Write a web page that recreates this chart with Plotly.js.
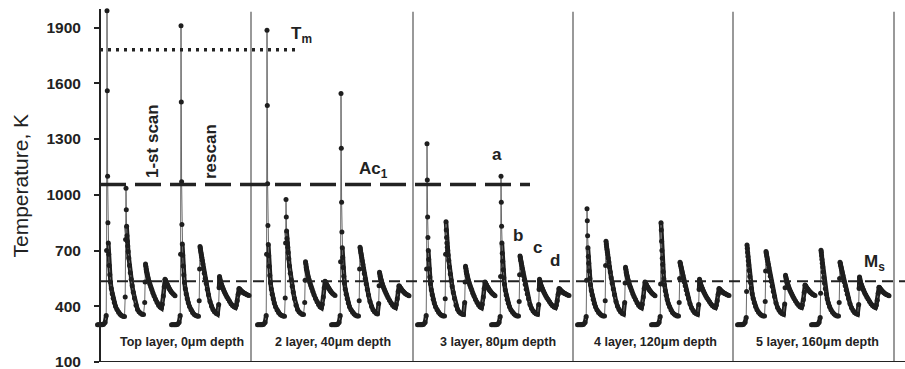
<!DOCTYPE html>
<html>
<head>
<meta charset="utf-8">
<script src="https://cdn.plot.ly/plotly-3.0.1.min.js"></script>
<style>html,body{margin:0;padding:0;background:#fff;}#chart{width:905px;height:369px;}</style>
</head>
<body>
<div id="chart"></div>
<script>
// ---- DATA ----
// Sample times within one scan (shared by every scan), arbitrary time units
const TIME = [
  0, 1.5, 3, 4.5, 6, 7.5,
  8.7, 9.1, 9.5, 9.8, 10.1, 10.4, 10.8, 11.2, 11.7, 12.3, 13.0, 13.8, 14.7, 15.7, 16.8, 18.0, 19.5, 21.0, 22.5, 24.0, 25.5, 27.0,
  27.7, 28.1, 28.5, 28.8, 29.1, 29.4, 29.8, 30.2, 30.7, 31.3, 32.0, 32.8, 33.7, 34.7, 35.8, 37.0, 38.5, 40.0, 41.5, 43.0, 44.5, 46.0,
  47.2, 47.6, 48.0, 48.3, 48.6, 48.9, 49.3, 49.7, 50.2, 50.8, 51.5, 52.3, 53.2, 54.2, 55.3, 56.5, 58.0, 59.5, 61.0, 62.5, 64.0,
  64.8, 65.8, 66.7, 67.5, 67.8, 68.1, 68.4, 68.8, 69.2, 69.7, 70.3, 71.0, 71.8, 72.7, 73.7, 74.8, 76.0, 77.5
];
// Start time of each layer's first scan, and delay of the rescan
const LAYER_START = [-2.5, 157.5, 317.5, 477.5, 637.5];
const RESCAN_DELAY = 74;
const LAYER_LABELS = ["Top layer, 0\u03bcm depth", "2 layer, 40\u03bcm depth", "3 layer, 80\u03bcm depth", "4 layer, 120\u03bcm depth", "5 layer, 160\u03bcm depth"];
const LAYER_BOUNDARY = [151, 313, 473, 633, 794];

// Temperatures (K)
const L1_SCAN = [300,300,300,300,303,312,
  350,700,1990,1560,1100,850,740,680,620,570,530,495,468,443,420,400,382,368,357,350,346,345,
  450,760,1035,920,830,780,750,725,695,660,620,580,545,510,476,443,405,383,370,362,357,355,
  420,530,627,615,600,590,580,570,560,548,535,520,505,490,473,457,438,420,406,396,390,
  410,455,505,545,541,537,533,528,523,517,510,502,494,486,478,471,464,457];
const L1_RESCAN = [300,300,300,300,303,312,
  350,680,1910,1500,1070,840,735,675,617,568,528,494,466,441,419,399,381,367,357,351,347,346,
  430,600,722,712,700,688,676,664,648,628,604,578,550,522,492,462,426,400,382,370,363,358,
  410,500,560,552,541,534,527,520,513,504,495,485,474,463,451,440,427,414,404,397,393,
  405,430,465,495,493,491,489,487,485,482,479,476,473,470,467,464,461,458];
const L2_SCAN = [300,300,300,300,303,312,
  350,680,1885,1480,1060,835,732,672,615,566,527,493,465,440,418,398,380,367,357,351,347,346,
  445,740,975,880,805,765,740,718,690,656,617,578,543,508,475,442,405,383,370,362,357,355,
  420,540,640,627,612,601,591,580,570,557,544,528,512,497,479,462,442,424,409,398,392,
  410,450,500,535,532,528,524,520,516,511,505,498,491,484,477,470,464,458];
const L2_RESCAN = [300,300,300,300,303,312,
  350,640,1545,1250,960,800,715,662,608,562,524,491,464,440,418,398,381,368,358,352,348,347,
  430,600,718,708,697,685,673,661,645,625,602,576,548,520,490,460,425,399,381,370,363,358,
  415,510,583,573,561,553,545,537,529,520,509,497,485,473,460,447,432,417,406,398,393,
  408,440,480,510,508,505,502,499,496,493,489,484,479,474,469,465,461,457];
const L3_SCAN = [300,300,300,300,303,312,
  350,600,1275,1080,880,770,700,652,602,558,521,489,462,438,417,398,381,368,358,352,348,347,
  440,680,855,810,770,740,718,700,676,646,610,573,540,506,474,442,406,384,371,363,358,356,
  420,530,616,605,590,581,572,562,553,541,529,515,501,487,470,455,437,420,407,397,392,
  410,450,495,530,527,524,520,516,512,507,501,495,488,482,475,469,463,457];
const L3_RESCAN = [300,300,300,300,303,312,
  345,560,1100,960,830,740,685,642,596,554,518,487,461,437,416,397,380,368,358,352,348,347,
  425,570,670,662,652,642,630,618,603,585,564,541,517,492,466,440,410,389,375,366,360,357,
  410,490,546,538,529,522,516,509,503,495,486,477,467,457,446,436,424,412,403,396,393,
  405,430,465,495,493,491,489,487,485,482,479,476,473,470,467,464,461,458];
const L4_SCAN = [300,300,300,300,303,312,
  345,540,925,860,780,715,668,632,590,550,516,485,460,436,415,397,380,367,358,352,348,347,
  430,620,750,735,720,706,692,678,660,638,612,584,554,524,493,462,426,400,382,370,363,358,
  420,525,610,599,585,576,567,557,548,537,525,511,498,484,468,453,436,419,406,397,392,
  410,450,495,530,527,524,520,516,512,507,501,495,488,482,475,469,463,457];
const L4_RESCAN = [300,300,300,300,303,312,
  345,520,850,810,750,700,658,625,586,548,514,484,459,436,415,397,380,367,358,352,348,347,
  420,550,637,630,622,614,604,594,582,567,550,530,510,488,465,442,413,392,377,367,361,357,
  410,490,546,538,529,522,516,509,503,495,486,477,467,457,446,436,424,412,403,396,393,
  405,430,465,495,493,491,489,487,485,482,479,476,473,470,467,464,461,458];
const L5_SCAN = [300,300,300,300,303,312,
  340,480,730,712,690,668,645,622,592,560,528,497,468,442,419,399,381,368,358,352,348,347,
  425,590,695,686,676,665,653,641,626,607,585,561,535,508,480,452,418,394,378,368,361,357,
  412,500,567,558,547,540,532,525,518,509,499,488,477,466,454,442,428,415,405,397,393,
  405,435,475,514,512,509,506,503,500,496,491,486,481,476,471,466,462,458];
const L5_RESCAN = [300,300,300,300,303,312,
  340,470,702,690,672,652,632,612,585,555,524,494,466,441,418,398,381,368,358,352,348,347,
  420,550,637,630,622,614,604,594,582,567,550,530,510,488,465,442,413,392,377,367,361,357,
  410,495,557,549,538,531,524,517,511,502,493,483,472,462,450,439,426,414,404,397,393,
  405,432,470,503,501,499,496,493,490,487,483,479,475,471,467,463,460,457];

// Reference temperatures (K)
const T_MELT = 1780;
const T_AC1 = 1055;
const T_MS = 535;

// ---- BUILD ----
const SCANS = [L1_SCAN, L1_RESCAN, L2_SCAN, L2_RESCAN, L3_SCAN, L3_RESCAN, L4_SCAN, L4_RESCAN, L5_SCAN, L5_RESCAN];
SCANS.forEach((s, i) => { if (s.length !== TIME.length) throw new Error('scan ' + i + ' length ' + s.length + ' vs ' + TIME.length); });

const PX0 = 100, PY_BOT = 362, PY_TOP = 9, YMIN = 100, YMAX = 2000;
const PX_PER_K = (PY_BOT - PY_TOP) / (YMAX - YMIN);

const thinTraces = [], thickTraces = [];
SCANS.forEach((temps, i) => {
  const layer = Math.floor(i / 2);
  const start = LAYER_START[layer] + (i % 2 ? RESCAN_DELAY : 0);
  const xs = TIME.map(t => start + t);
  // dense (slowly changing) stretches look like a continuous thick curve
  const tx = [], ty = [];
  for (let k = 1; k < xs.length; k++) {
    if (Math.abs(temps[k] - temps[k - 1]) * PX_PER_K <= 12) {
      if (tx.length && tx[tx.length - 1] !== xs[k - 1]) { tx.push(null); ty.push(null); }
      if (!tx.length || tx[tx.length - 1] !== xs[k - 1]) { tx.push(xs[k - 1]); ty.push(temps[k - 1]); }
      tx.push(xs[k]); ty.push(temps[k]);
    }
  }
  thickTraces.push({type: 'scatter', mode: 'lines', x: tx, y: ty, connectgaps: false,
    line: {color: '#1e1e1e', width: 4.5}, hoverinfo: 'skip', showlegend: false});
  thinTraces.push({type: 'scatter', mode: 'lines+markers', x: xs, y: temps,
    line: {color: '#6a6a6a', width: 1}, marker: {size: 5, color: '#1e1e1e'},
    cliponaxis: false, hoverinfo: 'skip', showlegend: false});
});

const px2x = px => px - PX0;
const py2y = py => YMIN + (PY_BOT - py) / PX_PER_K;

const shapes = [];
LAYER_BOUNDARY.forEach(b => shapes.push({type: 'line', xref: 'x', yref: 'paper', x0: b, x1: b, y0: 0, y1: 0.992, line: {color: '#555', width: 1.2}, layer: 'below'}));
shapes.push({type: 'line', xref: 'x', yref: 'y', x0: 0, x1: 200, y0: T_MELT, y1: T_MELT, line: {color: '#222', width: 3.5, dash: '3px,5px'}});
shapes.push({type: 'line', xref: 'x', yref: 'y', x0: 0, x1: 430, y0: T_AC1, y1: T_AC1, line: {color: '#222', width: 3.5, dash: '26px,9px'}});
shapes.push({type: 'line', xref: 'x', yref: 'y', x0: 0, x1: 805, y0: T_MS, y1: T_MS, line: {color: '#222', width: 2, dash: '11px,6px'}});
shapes.push({type: 'line', xref: 'x', yref: 'y', x0: -5, x1: 805, y0: YMIN, y1: YMIN, line: {color: '#222', width: 2}});

const bold = (size) => ({family: 'Liberation Sans, Arial, sans-serif', size: size, color: '#222', weight: 'bold'});
const ann = [];
const addText = (text, px, py, size, extra) => ann.push(Object.assign({text: text, xref: 'x', yref: 'y', x: px2x(px), y: py2y(py), showarrow: false, font: bold(size), xanchor: 'center', yanchor: 'middle'}, extra || {}));
addText('<b>T<sub>m</sub></b>', 289, 35, 17, {xanchor: 'left'});
addText('<b>Ac<sub>1</sub></b>', 357, 170, 17, {xanchor: 'left'});
addText('<b>M<sub>s</sub></b>', 862, 263, 17, {xanchor: 'left'});
addText('<b>1-st scan</b>', 152, 141, 17, {textangle: -90});
addText('<b>rescan</b>', 210, 152, 17, {textangle: -90});
addText('<b>a</b>', 497, 154, 17);
addText('<b>b</b>', 518, 235, 17);
addText('<b>c</b>', 537, 247, 17);
addText('<b>d</b>', 555, 260, 17);
const labelCenters = [182, 333, 498, 655, 817];
LAYER_LABELS.forEach((t, i) => addText('<b>' + t + '</b>', labelCenters[i], 342, 12.5));
ann.push({text: 'Temperature, K', xref: 'paper', yref: 'paper', x: (20 - 90) / 815, y: 0.5, textangle: -90, showarrow: false,
  font: {family: 'Liberation Sans, Arial, sans-serif', size: 21, color: '#222'}, xanchor: 'center', yanchor: 'middle'});

const layout = {
  width: 905, height: 369,
  margin: {l: 90, r: 0, t: PY_TOP, b: 369 - PY_BOT},
  paper_bgcolor: '#fff', plot_bgcolor: '#fff',
  showlegend: false,
  xaxis: {range: [-10, 805], visible: false, showgrid: false, zeroline: false},
  yaxis: {range: [YMIN, YMAX], anchor: 'free', position: 10 / 815,
    tickvals: [100, 400, 700, 1000, 1300, 1600, 1900],
    ticks: 'outside', ticklen: 5, tickwidth: 2, tickcolor: '#222',
    showline: true, linewidth: 2, linecolor: '#222',
    showgrid: false, zeroline: false, ticklabelstandoff: 10, ticklabeloverflow: 'allow',
    tickfont: bold(15.5)},
  shapes: shapes,
  annotations: ann
};
Plotly.newPlot('chart', thickTraces.concat(thinTraces), layout, {displayModeBar: false, staticPlot: true});
</script>
</body>
</html>
